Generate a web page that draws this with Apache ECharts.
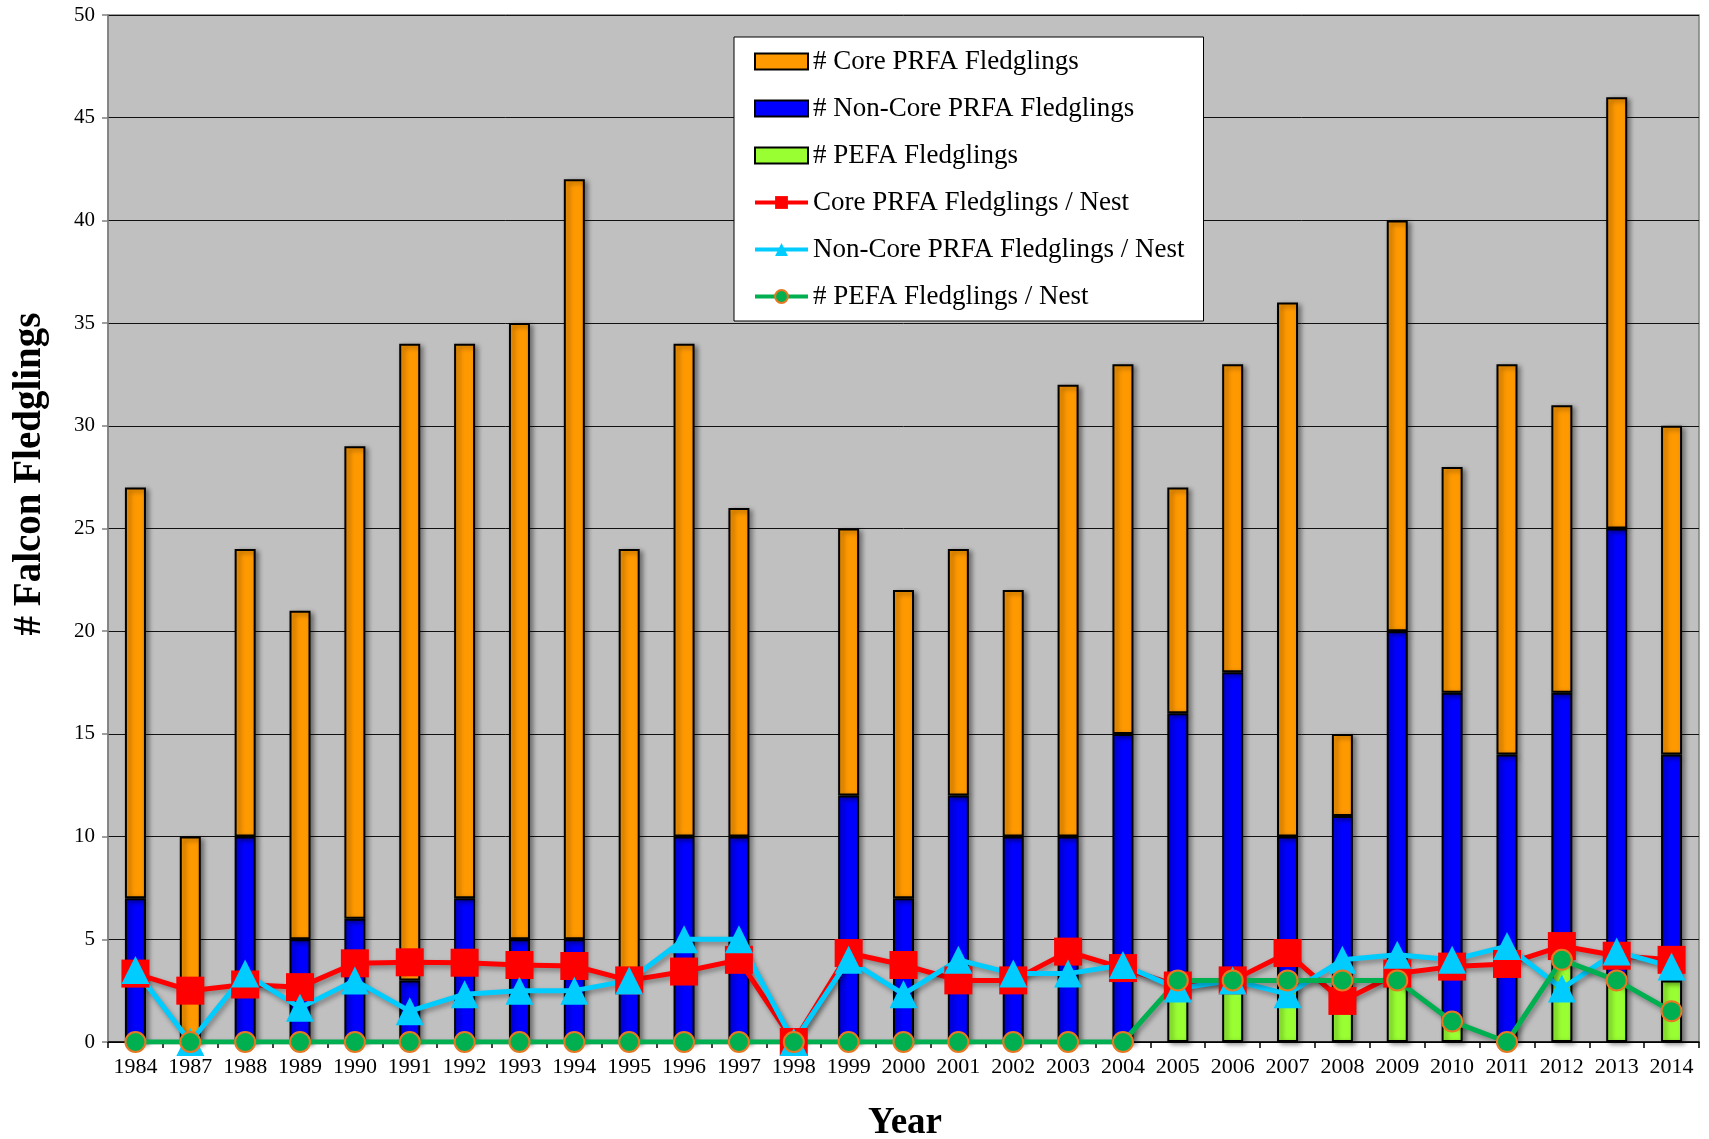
<!DOCTYPE html>
<html>
<head>
<meta charset="utf-8">
<script src="https://cdn.jsdelivr.net/npm/echarts@6/dist/echarts.min.js"></script>
<style>
html,body{margin:0;padding:0;background:#fff;}
#chart{width:1709px;height:1139px;}
</style>
</head>
<body>
<div id="chart"></div>
<script>
const years = ['1984','1987','1988','1989','1990','1991','1992','1993','1994','1995','1996','1997','1998','1999','2000','2001','2002','2003','2004','2005','2006','2007','2008','2009','2010','2011','2012','2013','2014'];
const corePRFA =    [20,10,14,16,23,31,27,30,37,21,24,16,0,13,15,12,12,22,18,11,15,26,4,20,11,19,14,21,16];
const nonCorePRFA = [7,0,10,5,6,3,7,5,5,3,10,10,0,12,7,12,10,10,15,13,15,7,8,17,16,14,13,22,11];
const pefa =        [0,0,0,0,0,0,0,0,0,0,0,0,0,0,0,0,0,0,0,3,3,3,3,3,1,0,4,3,3];
const corePerNest =    [3.33,2.5,2.8,2.67,3.83,3.88,3.86,3.75,3.7,3.0,3.43,4.0,0,4.33,3.75,3.0,3.0,4.4,3.6,2.75,3.0,4.33,2.0,3.33,3.67,3.8,4.67,4.2,4.0];
const nonCorePerNest = [3.5,0,3.33,1.67,3.0,1.5,2.33,2.5,2.5,3.0,5.0,5.0,0,4.0,2.33,4.0,3.33,3.33,3.75,2.6,3.0,2.33,4.0,4.25,4.0,4.67,2.6,4.4,3.67];
const pefaPerNest =    [0,0,0,0,0,0,0,0,0,0,0,0,0,0,0,0,0,0,0,3,3,3,3,3,1,0,4,3,1.5];
const yTicks = {min:0, max:50, interval:5};

const FONT = '"Liberation Serif", "Times New Roman", serif';
const barShadow = {shadowColor:'rgba(0,0,0,0.45)', shadowBlur:5, shadowOffsetX:3, shadowOffsetY:2};
const lineShadow = {shadowColor:'rgba(0,0,0,0.35)', shadowBlur:5, shadowOffsetX:2, shadowOffsetY:3};

function barSeries(name, data, color){
  return {
    name, type:'bar', stack:'fledge', data, barWidth:21,
    itemStyle: Object.assign({color, borderColor:'#000', borderWidth:2}, barShadow),
    emphasis:{disabled:true}
  };
}
function lineSeries(name, data, color, symbol, size, extraItem){
  return {
    name, type:'line', data, symbol, symbolSize:size,
    lineStyle: Object.assign({color, width:5}, lineShadow),
    itemStyle: Object.assign({color}, extraItem||{}),
    emphasis:{disabled:true}
  };
}

const chart = echarts.init(document.getElementById('chart'), null, {renderer:'canvas'});
chart.setOption({
  animation:false,
  backgroundColor:'#fff',
  grid:{left:108, right:10, top:15, bottom:97, show:true, backgroundColor:'#C0C0C0', borderColor:'#808080', borderWidth:1.5},
  legend:{
    orient:'vertical', left:734, top:37,
    backgroundColor:'#fff', borderColor:'#000', borderWidth:1,
    padding:[11,19,11,19], itemGap:20, itemWidth:53, itemHeight:16,
    lineStyle:{width:4},
    textStyle:{fontFamily:FONT, fontSize:27, color:'#000', lineHeight:27},
    data:[
      {name:'# Core PRFA Fledglings', icon:'rect'},
      {name:'# Non-Core PRFA Fledglings', icon:'rect'},
      {name:'# PEFA Fledglings', icon:'rect'},
      'Core PRFA Fledglings / Nest','Non-Core PRFA Fledglings / Nest','# PEFA Fledglings / Nest'],
    selectedMode:false
  },
  xAxis:{
    type:'category', data:years,
    axisLine:{show:true, lineStyle:{color:'#000', width:1.5}},
    axisTick:{show:true, alignWithLabel:false, length:6, lineStyle:{color:'#000', width:1.5}},
    axisLabel:{interval:0, margin:14, fontFamily:FONT, fontSize:22, color:'#000'},
    splitLine:{show:false}
  },
  yAxis:{
    type:'value', min:yTicks.min, max:yTicks.max, interval:yTicks.interval,
    axisLine:{show:true, lineStyle:{color:'#808080', width:1.5}},
    axisTick:{show:true, length:6, lineStyle:{color:'#808080', width:1.5}},
    axisLabel:{margin:13, fontFamily:FONT, fontSize:21, color:'#000'},
    splitLine:{show:true, lineStyle:{color:'#111', width:1}}
  },
  graphic:[
    {type:'text', x:30, y:474, rotation:Math.PI/2,
     style:{text:'# Falcon Fledglings', fontFamily:FONT, fontSize:39, fontWeight:'bold', fill:'#000', align:'center', verticalAlign:'middle'}},
    {type:'text', x:905, y:1123,
     style:{text:'Year', fontFamily:FONT, fontSize:37, fontWeight:'bold', fill:'#000', align:'center', verticalAlign:'middle'}}
  ],
  series:[
    barSeries('# PEFA Fledglings', pefa, '#99FF33'),
    barSeries('# Non-Core PRFA Fledglings', nonCorePRFA, '#0000FF'),
    barSeries('# Core PRFA Fledglings', corePRFA, '#FF9900'),
    lineSeries('Core PRFA Fledglings / Nest', corePerNest, '#FF0000', 'rect', 28),
    lineSeries('Non-Core PRFA Fledglings / Nest', nonCorePerNest, '#00CCFF', 'triangle', 28),
    lineSeries('# PEFA Fledglings / Nest', pefaPerNest, '#00B050', 'circle', 20, {borderColor:'#E87722', borderWidth:2})
  ]
});
</script>
</body>
</html>
